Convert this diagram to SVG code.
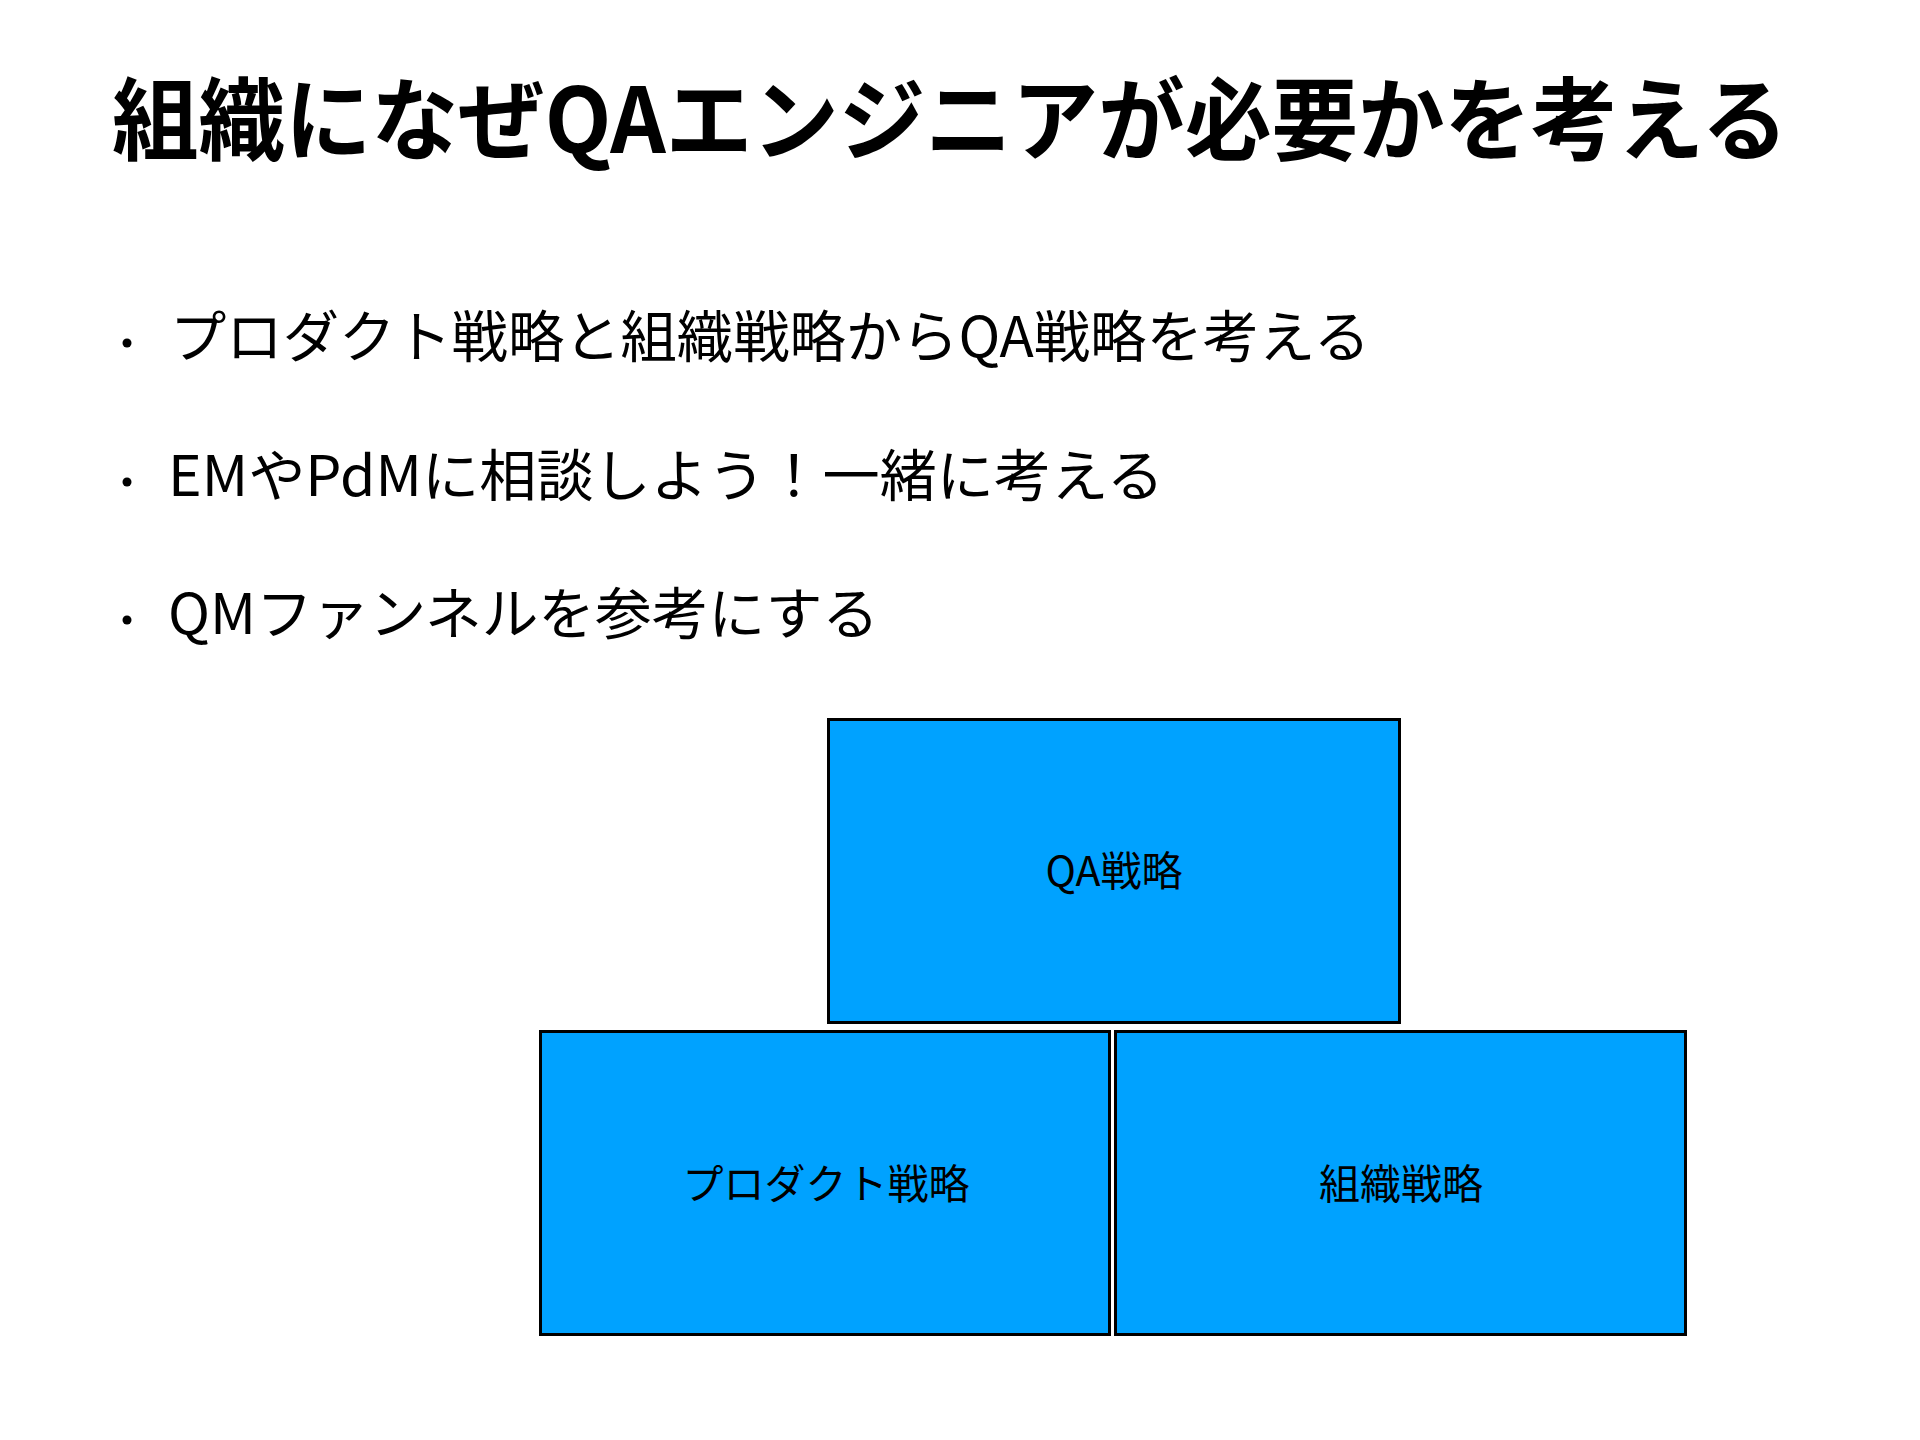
<svg xmlns="http://www.w3.org/2000/svg" width="1920" height="1440" viewBox="0 0 1920 1440">
<style>
text{font-family:"Noto Sans CJK JP","Noto Sans",sans-serif;fill:#000}
.title{font-size:90px;font-weight:700}
.bullet{font-size:56px}
.label{font-size:41px;text-anchor:middle}
.box{fill:#00A2FF;stroke:#000;stroke-width:3}
.dot{fill:#000}
</style>
<rect x="0" y="0" width="1920" height="1440" fill="#fff"/>
<text class="title" x="112" y="153" textLength="1676" lengthAdjust="spacingAndGlyphs">組織になぜQAエンジニアが必要かを考える</text>
<g id="bullets">
<circle class="dot" cx="127" cy="343" r="4.5"/>
<text class="bullet" x="170" y="357" textLength="1200" lengthAdjust="spacingAndGlyphs">プロダクト戦略と組織戦略からQA戦略を考える</text>
<circle class="dot" cx="127" cy="482" r="4.5"/>
<text class="bullet" x="168" y="496" textLength="996" lengthAdjust="spacingAndGlyphs">EMやPdMに相談しよう！一緒に考える</text>
<circle class="dot" cx="127" cy="620" r="4.5"/>
<text class="bullet" x="168" y="634" textLength="711" lengthAdjust="spacingAndGlyphs">QMファンネルを参考にする</text>
</g>
<g id="connectors"></g>
<g id="qa">
<rect class="box" x="828.5" y="719.5" width="571" height="303"/>
<text class="label" x="1114" y="886">QA戦略</text>
</g>
<g id="product">
<rect class="box" x="540.5" y="1031.5" width="569" height="303"/>
<text class="label" x="826" y="1199">プロダクト戦略</text>
</g>
<g id="org">
<rect class="box" x="1115.5" y="1031.5" width="570" height="303"/>
<text class="label" x="1401" y="1199">組織戦略</text>
</g>
</svg>
